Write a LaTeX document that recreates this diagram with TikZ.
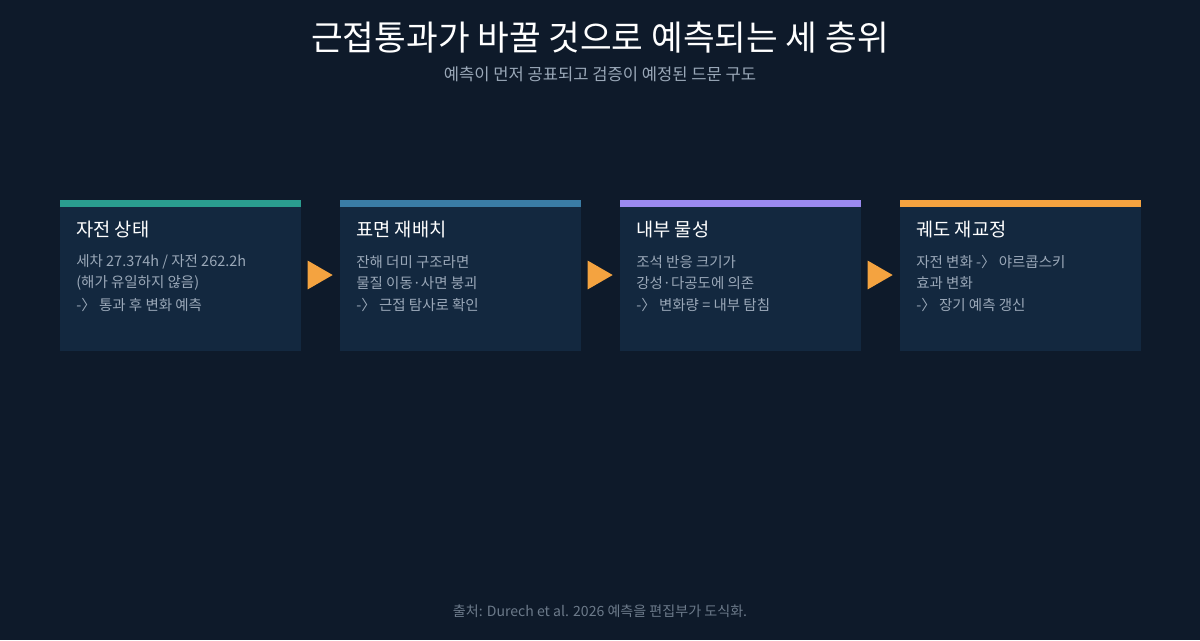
\documentclass[tikz,border=0pt]{standalone}
\usepackage{fontspec}
\setmainfont{Noto Sans CJK KR}
\usetikzlibrary{positioning, shapes.geometric}
\definecolor{bgc}{HTML}{0E1A2A}
\definecolor{cardc}{HTML}{13283F}
\definecolor{bodyc}{HTML}{9AA8B8}
\definecolor{footc}{HTML}{6C7A8A}
\definecolor{tealc}{HTML}{2A9D8F}
\definecolor{bluec}{HTML}{3A7CA5}
\definecolor{violc}{HTML}{9B8AF0}
\definecolor{orngc}{HTML}{F4A340}
\begin{document}
\begin{tikzpicture}[x=0.025cm, y=-0.025cm,
			card/.style = {rectangle, fill=cardc, minimum width=241*0.025cm, minimum height=151*0.025cm, inner sep=0, anchor=north west},
			bar/.style = {rectangle, fill=#1, minimum width=241*0.025cm, minimum height=7*0.025cm, inner sep=0, anchor=north west},
			head/.style = {anchor=west, text=white, font=\fontsize{13.3}{15}\selectfont, inner sep=0},
			body/.style = {anchor=west, text=bodyc, font=\fontsize{10.3}{12}\selectfont, inner sep=0},
			flowmark/.style = {isosceles triangle, fill=orngc, minimum width=25*0.025cm, minimum height=25*0.025cm, inner sep=0, isosceles triangle apex angle=60},
		]
		\fill[bgc] (0,0) rectangle (1200,640);
		\node[text=white, font=\fontsize{24.5}{28}\selectfont] (title) at (600,38) {근접통과가 바꿀 것으로 예측되는 세 층위};
		\node[text=bodyc, font=\fontsize{11.8}{14}\selectfont] (sub) at (600,74) {예측이 먼저 공표되고 검증이 예정된 드문 구도};

		\foreach \i/\x/\c/\h/\la/\lb/\lc in {
			1/60/tealc/자전 상태/{세차 27.374h / 자전 262.2h}/(해가 유일하지 않음)/-〉 통과 후 변화 예측,
			2/340/bluec/표면 재배치/잔해 더미 구조라면/물질 이동·사면 붕괴/-〉 근접 탐사로 확인,
			3/620/violc/내부 물성/조석 반응 크기가/강성·다공도에 의존/-〉 변화량 = 내부 탐침,
			4/900/orngc/궤도 재교정/자전 변화 -〉 야르콥스키/효과 변화/-〉 장기 예측 갱신}{
			\node[card] (card\i) at (\x,200) {};
			\node[bar=\c] (bar\i) at (\x,200) {};
			\node[head] (head\i) at (\x+16,229) {\h};
			\node[body] (la\i) at (\x+16,262) {\la};
			\node[body] (lb\i) at (\x+16,283) {\lb};
			\node[body] (lc\i) at (\x+16,305) {\lc};
		}
		\foreach \i/\x in {1/316,2/596,3/876}
			\node[flowmark] (mark\i) at (\x,275) {};

		\node[text=footc, font=\fontsize{10}{12}\selectfont] (src) at (600,611) {출처: Durech et al. 2026 예측을 편집부가 도식화.};
	\end{tikzpicture}
\end{document}
